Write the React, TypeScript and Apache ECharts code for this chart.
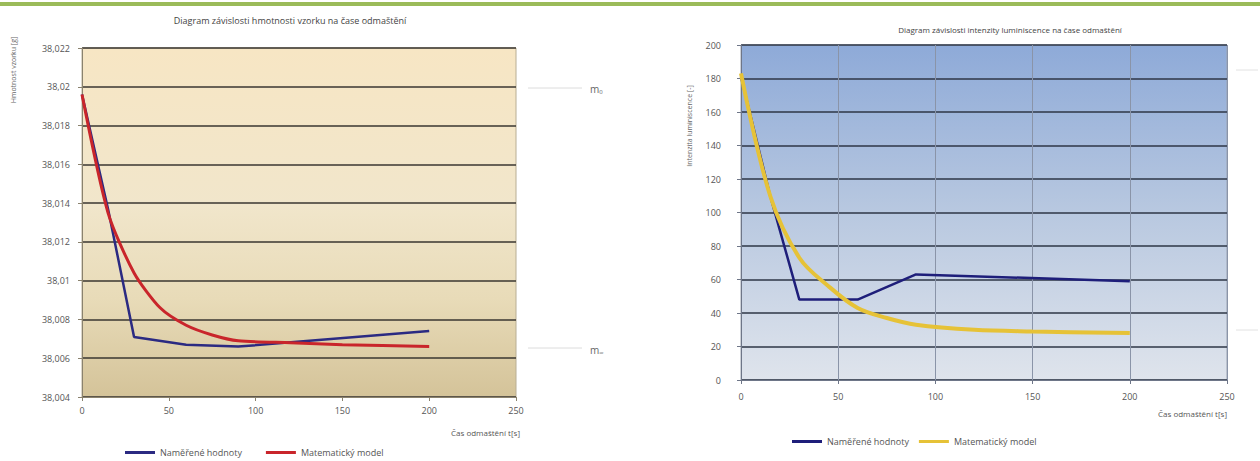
import React, { useEffect, useRef } from "react";
import * as echarts from "echarts";

// ---- data ----
const massMeasuredT = [0, 15, 30, 60, 90, 200];
const massMeasured = [38.0196, 38.0137, 38.0071, 38.0067, 38.0066, 38.0074];
const massModelT = [0, 15, 30, 45, 60, 75, 90, 120, 150, 200];
const massModel = [38.0196, 38.0135, 38.0104, 38.0086, 38.0077, 38.0072, 38.0069, 38.0068, 38.0067, 38.0066];

const lumMeasuredT = [0, 15, 30, 60, 90, 200];
const lumMeasured = [181, 110, 48, 48, 63, 59];
const lumModelT = [0, 15, 30, 45, 60, 75, 90, 120, 150, 200];
const lumModel = [183, 110, 73, 56, 43, 37, 33, 30, 29, 28];

const seriesNames = ["Naměřené hodnoty", "Matematický model"];
const leftTitle = "Diagram závislosti hmotnosti vzorku na čase odmaštění";
const rightTitle = "Diagram závislosti intenzity luminiscence na čase odmaštění";
const xName = "Čas odmaštění t[s]";
const leftYName = "Hmotnost vzorku [g]";
const rightYName = "Intenzita luminiscence [-]";

const FONT = "'Open Sans', 'Noto Sans', sans-serif";
const pairs = (xs: number[], ys: number[]) => xs.map((x, i) => [x, ys[i]]);

function leftOption(): any {
  return {
    animation: false,
    textStyle: { fontFamily: FONT },
    title: {
      text: leftTitle,
      left: 285,
      textAlign: "center",
      top: 11,
      textStyle: { fontSize: 9, fontWeight: "normal", color: "#444", fontFamily: FONT },
    },
    legend: {
      data: seriesNames,
      left: 120,
      top: 443,
      icon: "rect",
      itemWidth: 30,
      itemHeight: 3,
      itemGap: 24,
      itemStyle: { borderWidth: 0 },
      textStyle: { fontSize: 9, color: "#555", fontFamily: FONT },
    },
    grid: {
      left: 82,
      top: 48,
      width: 434,
      height: 349,
      show: true,
      borderColor: "#b8ae94",
      borderWidth: 1,
      backgroundColor: {
        type: "linear",
        x: 0, y: 0, x2: 0, y2: 1,
        colorStops: [
          { offset: 0, color: "#f7e6c4" },
          { offset: 0.45, color: "#f1e6cb" },
          { offset: 0.72, color: "#e8dbb8" },
          { offset: 1, color: "#d4c399" },
        ],
      },
    },
    xAxis: {
      type: "value",
      min: 0,
      max: 250,
      interval: 50,
      axisLine: { lineStyle: { color: "#8a826e", width: 1 } },
      axisTick: { show: true, inside: false, length: 4, lineStyle: { color: "#8a826e" } },
      axisLabel: { fontSize: 9, color: "#555", margin: 9, fontFamily: FONT },
      splitLine: { show: false },
    },
    yAxis: {
      type: "value",
      min: 38.004,
      max: 38.022,
      interval: 0.002,
      axisLine: { show: true, lineStyle: { color: "#8a826e", width: 1 } },
      axisTick: { show: true, length: 4, lineStyle: { color: "#8a826e" } },
      axisLabel: {
        fontSize: 9,
        color: "#555",
        margin: 12,
        fontFamily: FONT,
        formatter: (v: number) => String(Number(v.toFixed(3))).replace(".", ","),
      },
      splitLine: { show: true, lineStyle: { color: "#3a3630", width: 1.5 } },
    },
    series: [
      {
        name: seriesNames[0],
        type: "line",
        data: pairs(massMeasuredT, massMeasured),
        showSymbol: false,
        symbol: "none",
        lineStyle: { color: "#2b2a82", width: 2.5 },
        itemStyle: { color: "#2b2a82" },
        z: 2,
      },
      {
        name: seriesNames[1],
        type: "line",
        data: pairs(massModelT, massModel),
        smooth: 0.25,
        showSymbol: false,
        symbol: "none",
        lineStyle: { color: "#c9252b", width: 3 },
        itemStyle: { color: "#c9252b" },
        z: 3,
      },
    ],
    graphic: [
      { type: "rect", shape: { x: 0, y: 2, width: 630, height: 4 }, style: { fill: "#9bbb59" } },
      {
        type: "text",
        x: 13,
        y: 70,
        rotation: Math.PI / 2,
        style: { text: leftYName, fontSize: 7, fill: "#666", align: "center", verticalAlign: "middle", fontFamily: FONT },
      },
      {
        type: "text",
        x: 520,
        y: 432,
        style: { text: xName, fontSize: 8, fill: "#555", align: "right", verticalAlign: "middle", fontFamily: FONT },
      },
      { type: "line", shape: { x1: 528, y1: 88, x2: 582, y2: 88 }, style: { stroke: "#dcdcdc", lineWidth: 1 } },
      { type: "line", shape: { x1: 528, y1: 348, x2: 582, y2: 348 }, style: { stroke: "#dcdcdc", lineWidth: 1 } },
      {
        type: "text",
        x: 590,
        y: 89,
        style: {
          text: "{a|m}{b|0}",
          verticalAlign: "middle",
          rich: { a: { fontSize: 10, fill: "#666", fontFamily: FONT }, b: { fontSize: 6, fill: "#666", padding: [5, 0, 0, 0], fontFamily: FONT } },
        },
      },
      {
        type: "text",
        x: 590,
        y: 350,
        style: {
          text: "{a|m}{b|∞}",
          verticalAlign: "middle",
          rich: { a: { fontSize: 10, fill: "#666", fontFamily: FONT }, b: { fontSize: 6, fill: "#666", padding: [5, 0, 0, 0], fontFamily: FONT } },
        },
      },
    ],
  };
}

function rightOption(): any {
  return {
    animation: false,
    textStyle: { fontFamily: FONT },
    title: {
      text: rightTitle,
      left: 375,
      textAlign: "center",
      top: 20,
      textStyle: { fontSize: 8, fontWeight: "normal", color: "#444", fontFamily: FONT },
    },
    legend: {
      data: seriesNames,
      left: 157,
      top: 432,
      icon: "rect",
      itemWidth: 30,
      itemHeight: 3,
      itemGap: 10,
      itemStyle: { borderWidth: 0 },
      textStyle: { fontSize: 9, color: "#555", fontFamily: FONT },
    },
    grid: {
      left: 111,
      top: 45,
      width: 486,
      height: 335,
      show: true,
      borderColor: "#9aa2b0",
      borderWidth: 1,
      backgroundColor: {
        type: "linear",
        x: 0, y: 0, x2: 0, y2: 1,
        colorStops: [
          { offset: 0, color: "#8eaad8" },
          { offset: 0.5, color: "#b8c8e0" },
          { offset: 1, color: "#dfe4ec" },
        ],
      },
    },
    xAxis: {
      type: "value",
      min: 0,
      max: 250,
      interval: 50,
      axisLine: { lineStyle: { color: "#6e7688", width: 1 } },
      axisTick: { show: true, length: 4, lineStyle: { color: "#6e7688" } },
      axisLabel: { fontSize: 9, color: "#555", margin: 12, fontFamily: FONT },
      splitLine: { show: true, lineStyle: { color: "#8a94a8", width: 1 } },
    },
    yAxis: {
      type: "value",
      min: 0,
      max: 200,
      interval: 20,
      axisLine: { show: true, lineStyle: { color: "#6e7688", width: 1 } },
      axisTick: { show: true, length: 4, lineStyle: { color: "#6e7688" } },
      axisLabel: { fontSize: 9, color: "#555", margin: 20, fontFamily: FONT },
      splitLine: { show: true, lineStyle: { color: "#2e3646", width: 1.5 } },
    },
    series: [
      {
        name: seriesNames[0],
        type: "line",
        data: pairs(lumMeasuredT, lumMeasured),
        showSymbol: false,
        symbol: "none",
        lineStyle: { color: "#1e1e7a", width: 2.5 },
        itemStyle: { color: "#1e1e7a" },
        z: 2,
      },
      {
        name: seriesNames[1],
        type: "line",
        data: pairs(lumModelT, lumModel),
        smooth: 0.35,
        showSymbol: false,
        symbol: "none",
        lineStyle: { color: "#e6c237", width: 4 },
        itemStyle: { color: "#e6c237" },
        z: 3,
      },
    ],
    graphic: [
      { type: "rect", shape: { x: 0, y: 2, width: 630, height: 4 }, style: { fill: "#9bbb59" } },
      {
        type: "text",
        x: 59,
        y: 126,
        rotation: Math.PI / 2,
        style: { text: rightYName, fontSize: 7, fill: "#666", align: "center", verticalAlign: "middle", fontFamily: FONT },
      },
      {
        type: "text",
        x: 597,
        y: 413,
        style: { text: xName, fontSize: 8, fill: "#555", align: "right", verticalAlign: "middle", fontFamily: FONT },
      },
      { type: "line", shape: { x1: 606, y1: 70, x2: 628, y2: 70 }, style: { stroke: "#e2e2e2", lineWidth: 1 } },
      { type: "line", shape: { x1: 606, y1: 330, x2: 628, y2: 330 }, style: { stroke: "#e2e2e2", lineWidth: 1 } },
    ],
  };
}

function Chart({ option }: { option: any }) {
  const ref = useRef<HTMLDivElement>(null);
  useEffect(() => {
    if (!ref.current) return;
    const chart = echarts.init(ref.current, undefined, { renderer: "svg" });
    chart.setOption(option);
    return () => chart.dispose();
  }, [option]);
  return <div ref={ref} style={{ width: 630, height: 461 }} />;
}

const LEFT = leftOption();
const RIGHT = rightOption();

export default function App() {
  useEffect(() => {
    document.body.style.margin = "0";
  }, []);
  return (
    <div style={{ display: "flex", width: 1260, height: 461, background: "#ffffff" }}>
      <Chart option={LEFT} />
      <Chart option={RIGHT} />
    </div>
  );
}
